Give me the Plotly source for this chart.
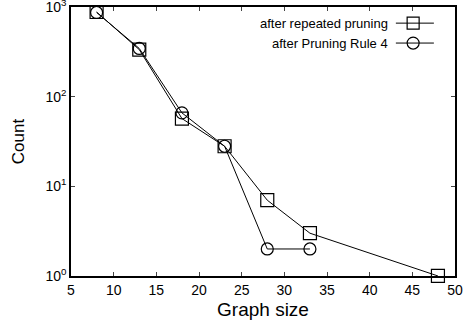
import plotly.graph_objects as go

sizes_repeated = [8, 13, 18, 23, 28, 33, 48]
counts_repeated = [880, 335, 57, 28, 7, 3, 1]
sizes_rule4 = [8, 13, 18, 23, 28, 33]
counts_rule4 = [870, 345, 66, 28, 2, 2]
legend_labels = ["after repeated pruning", "after Pruning Rule 4"]
x_ticks = [5, 10, 15, 20, 25, 30, 35, 40, 45, 50]
y_ticks = [1, 10, 100, 1000]
y_ticktext = ["10<sup>0</sup>", "10<sup>1</sup>", "10<sup>2</sup>", "10<sup>3</sup>"]

FONT = "Liberation Sans, Arial, sans-serif"

fig = go.Figure()
fig.add_trace(go.Scatter(
    x=sizes_repeated, y=counts_repeated, mode="lines+markers",
    line=dict(color="black", width=1),
    marker=dict(symbol="square-open", size=13, color="black", line=dict(width=1.2)),
    showlegend=False, cliponaxis=False))
fig.add_trace(go.Scatter(
    x=sizes_rule4, y=counts_rule4, mode="lines+markers",
    line=dict(color="black", width=1),
    marker=dict(symbol="circle-open", size=12, color="black", line=dict(width=1.2)),
    showlegend=False, cliponaxis=False))

# legend samples on a hidden overlay axis
lx = [0.846, 0.945]
ly = [0.94, 0.866]
for lab, sym, sz, yy in zip(legend_labels, ["square-open", "circle-open"], [12, 12], ly):
    fig.add_trace(go.Scatter(
        x=lx, y=[yy, yy], mode="lines", line=dict(color="black", width=1),
        xaxis="x2", yaxis="y2", showlegend=False, hoverinfo="skip"))
    fig.add_trace(go.Scatter(
        x=[0.891], y=[yy], mode="markers",
        marker=dict(symbol=sym, size=sz, color="black", line=dict(width=1.2)),
        xaxis="x2", yaxis="y2", showlegend=False, hoverinfo="skip"))
    fig.add_annotation(x=0.823, y=yy, xref="x2", yref="y2", text=lab,
                       showarrow=False, xanchor="right", yanchor="middle",
                       xshift=3,
                       font=dict(family=FONT, size=13, color="black"))

fig.update_layout(
    width=468, height=329,
    margin=dict(l=71, r=13, t=7, b=53),
    paper_bgcolor="white", plot_bgcolor="white",
    font=dict(family=FONT, size=14, color="black"),
    xaxis=dict(range=[5, 50], tickvals=x_ticks, ticks="inside", ticklen=4,
               mirror="ticks", showline=True, linecolor="black", linewidth=1.5,
               showgrid=False, zeroline=False, automargin=False,
               title=dict(text="Graph size", font=dict(size=19), standoff=6),
               tickfont=dict(size=14)),
    yaxis=dict(type="log", range=[-0.0005, 3.0005], tickvals=y_ticks, ticktext=y_ticktext,
               ticks="inside", ticklen=4, mirror="ticks", showline=True,
               linecolor="black", linewidth=1.5, showgrid=False, zeroline=False,
               automargin=False, ticklabeloverflow="allow",
               title=dict(text="Count", font=dict(size=17), standoff=16),
               tickfont=dict(size=14)),
    xaxis2=dict(overlaying="x", range=[0, 1], visible=False, domain=[0, 1]),
    yaxis2=dict(overlaying="y", range=[0, 1], visible=False),
)

fig.write_html("out.html")
